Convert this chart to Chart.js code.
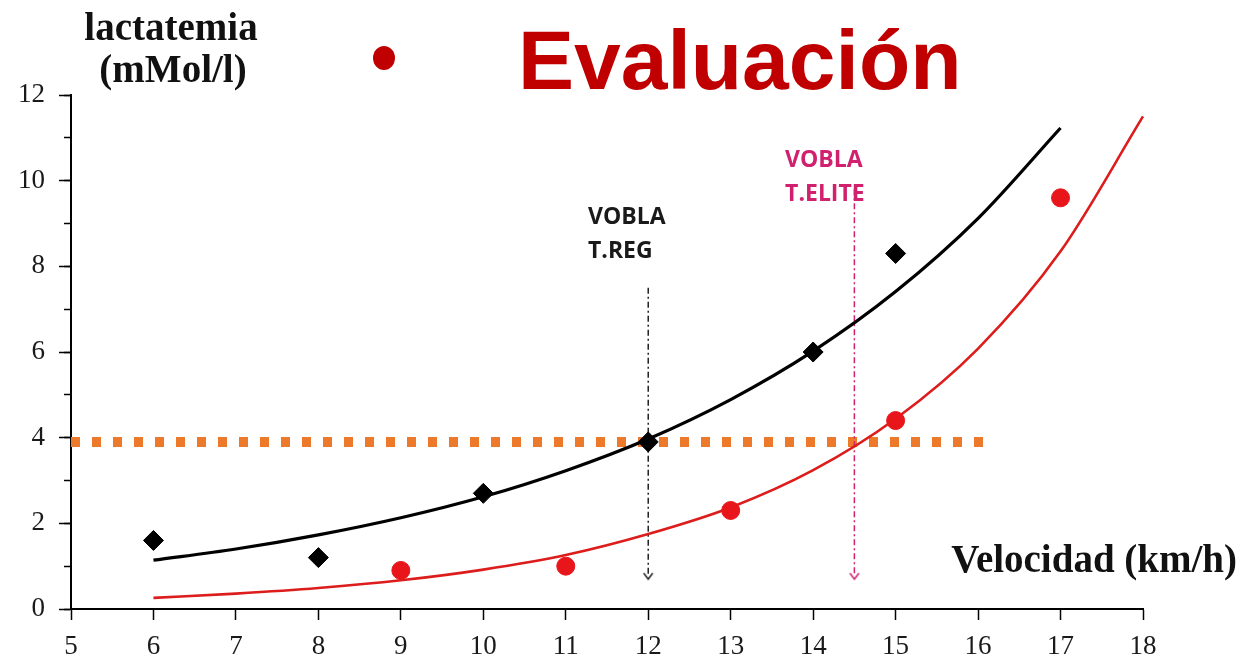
<!DOCTYPE html>
<html>
<head>
<meta charset="utf-8">
<script src="https://cdn.jsdelivr.net/npm/chart.js@4.4.1/dist/chart.umd.min.js"></script>
<style>
  html, body { margin: 0; padding: 0; background: #fff; }
</style>
</head>
<body>
<canvas id="chart" width="1243" height="659"></canvas>
<script>
// puntos medidos (velocidad km/h, lactato mMol/l)
var regSpeed = [6, 8, 10, 12, 14, 15];
var regLactate = [1.6, 1.2, 2.7, 3.9, 6.0, 8.3];
var eliteSpeed = [9, 11, 13, 15, 17];
var eliteLactate = [0.9, 1.0, 2.3, 4.4, 9.6];

// curvas de tendencia
var regTrendSpeed = [6, 7, 8, 9, 10, 11, 12, 13, 14, 15, 16, 17];
var regTrendLactate = [1.14, 1.4, 1.73, 2.13, 2.62, 3.23, 3.97, 4.89, 6.02, 7.41, 9.12, 11.23];
var eliteTrendSpeed = [6, 7, 8, 9, 10, 11, 12, 13, 14, 15, 16, 17, 18];
var eliteTrendLactate = [0.26, 0.36, 0.49, 0.67, 0.92, 1.26, 1.75, 2.37, 3.24, 4.44, 6.08, 8.35, 11.5];

// umbral 4 mMol y VOBLA
var thresholdSpeed = [5, 16.2];
var thresholdLactate = [3.9, 3.9];
var voblaRegSpeed = [12, 12];
var voblaRegLactate = [7.5, 0.79];
var voblaEliteSpeed = [14.5, 14.5];
var voblaEliteLactate = [9.8, 0.79];

var xTicks = [5, 6, 7, 8, 9, 10, 11, 12, 13, 14, 15, 16, 17, 18];
var yTicks = [0, 2, 4, 6, 8, 10, 12];

var pink = "#d0206e";

function toPoints(xs, ys) {
  return xs.map(function (x, i) { return { x: x, y: ys[i] }; });
}

function makeArrow(color) {
  var c = document.createElement("canvas");
  c.width = 14;
  c.height = 14;
  var g = c.getContext("2d");
  g.strokeStyle = color;
  g.lineWidth = 1.5;
  g.beginPath();
  g.moveTo(2.5, 5);
  g.lineTo(7, 11);
  g.lineTo(11.5, 5);
  g.stroke();
  return c;
}

var textPlugin = {
  id: "texts",
  afterDraw: function (chart) {
    var c = chart.ctx;
    var xs = chart.scales.x;
    var ys = chart.scales.y;
    c.save();

    // titulo
    c.fillStyle = "#c00000";
    c.beginPath();
    c.ellipse(384, 58, 11, 12, 0, 0, Math.PI * 2);
    c.fill();
    c.font = "bold 84px 'Liberation Sans', Arial, sans-serif";
    c.textAlign = "left";
    c.textBaseline = "alphabetic";
    c.fillText("Evaluación", 518, 89);

    // titulos de ejes
    c.fillStyle = "#111";
    c.font = "bold 39px 'Liberation Serif', 'Times New Roman', serif";
    c.textAlign = "center";
    c.fillText("lactatemia", 171, 40);
    c.fillText("(mMol/l)", 173, 82);
    c.textAlign = "right";
    c.fillText("Velocidad (km/h)", 1237, 572);

    // etiquetas VOBLA
    c.textAlign = "left";
    c.font = "bold 23px 'Open Sans', sans-serif";
    c.fillStyle = "#1a1a1a";
    c.fillText("VOBLA", xs.getPixelForValue(11.27), ys.getPixelForValue(9.0));
    c.fillText("T.REG", xs.getPixelForValue(11.27), ys.getPixelForValue(8.2));
    c.fillStyle = pink;
    c.fillText("VOBLA", xs.getPixelForValue(13.66), ys.getPixelForValue(10.32));
    c.fillText("T.ELITE", xs.getPixelForValue(13.66), ys.getPixelForValue(9.53));
    c.restore();
  }
};

var ctx = document.getElementById("chart").getContext("2d");
var chart = new Chart(ctx, {
  type: "scatter",
  data: {
    datasets: [
      {
        // linea de 4 mMol
        type: "line",
        data: toPoints(thresholdSpeed, thresholdLactate),
        borderColor: "#ec7a2a",
        borderWidth: 10,
        borderDash: [9, 12],
        borderCapStyle: "butt",
        pointRadius: 0,
        order: 5
      },
      {
        type: "line",
        data: toPoints(regTrendSpeed, regTrendLactate),
        borderColor: "#000",
        borderWidth: 3.2,
        cubicInterpolationMode: "monotone",
        pointRadius: 0,
        order: 3
      },
      {
        type: "line",
        data: toPoints(eliteTrendSpeed, eliteTrendLactate),
        borderColor: "#dd1c1c",
        borderWidth: 2.6,
        cubicInterpolationMode: "monotone",
        pointRadius: 0,
        clip: false,
        order: 3
      },
      {
        type: "line",
        data: toPoints(voblaRegSpeed, voblaRegLactate),
        borderColor: "#222",
        borderWidth: 1.5,
        borderDash: [6, 3, 2, 3],
        pointRadius: [0, 7],
        pointStyle: makeArrow("#222"),
        order: 4
      },
      {
        type: "line",
        data: toPoints(voblaEliteSpeed, voblaEliteLactate),
        borderColor: pink,
        borderWidth: 1.5,
        borderDash: [6, 3, 2, 3],
        pointRadius: [0, 7],
        pointStyle: makeArrow(pink),
        order: 4
      },
      {
        data: toPoints(regSpeed, regLactate),
        pointStyle: "rectRot",
        pointRadius: 10,
        backgroundColor: "#000",
        borderColor: "#000",
        borderWidth: 1,
        order: 1
      },
      {
        data: toPoints(eliteSpeed, eliteLactate),
        pointStyle: "circle",
        pointRadius: 9,
        backgroundColor: "#e8161b",
        borderColor: "#e8161b",
        borderWidth: 1,
        order: 1
      }
    ]
  },
  plugins: [textPlugin],
  options: {
    responsive: false,
    animation: false,
    layout: { padding: { left: 0, right: 100, top: 95, bottom: 0 } },
    plugins: {
      legend: { display: false },
      tooltip: { enabled: false }
    },
    scales: {
      x: {
        type: "linear",
        position: "bottom",
        min: xTicks[0],
        max: xTicks[xTicks.length - 1],
        afterBuildTicks: function (s) { s.ticks = xTicks.map(function (v) { return { value: v }; }); },
        afterFit: function (s) { s.height = 50; },
        ticks: {
          font: { family: "'Liberation Serif', 'Times New Roman', serif", size: 27 },
          color: "#1a1a1a",
          padding: 11,
          maxRotation: 0
        },
        grid: { drawOnChartArea: false, drawTicks: true, tickLength: 11, color: "#000", tickWidth: 1.5 },
        border: { display: true, color: "#000", width: 2 }
      },
      y: {
        type: "linear",
        position: "left",
        weight: 1,
        min: yTicks[0],
        max: yTicks[yTicks.length - 1],
        afterBuildTicks: function (s) { s.ticks = yTicks.map(function (v) { return { value: v }; }); },
        afterFit: function (s) { s.width = 71; },
        ticks: {
          font: { family: "'Liberation Serif', 'Times New Roman', serif", size: 27 },
          color: "#1a1a1a",
          padding: 14
        },
        grid: { drawOnChartArea: false, drawTicks: true, tickLength: 12, color: "#000", tickWidth: 1.5 },
        border: { display: true, color: "#000", width: 2 }
      },
      // marcas menores del eje y
      yMinor: {
        type: "linear",
        position: "left",
        weight: 0,
        min: yTicks[0],
        max: yTicks[yTicks.length - 1],
        ticks: { stepSize: 1, display: false },
        afterFit: function (s) { s.width = 0; },
        grid: { drawOnChartArea: false, drawTicks: true, tickLength: 7, color: "#000", tickWidth: 1.5 },
        border: { display: false }
      }
    }
  }
});
</script>
</body>
</html>
